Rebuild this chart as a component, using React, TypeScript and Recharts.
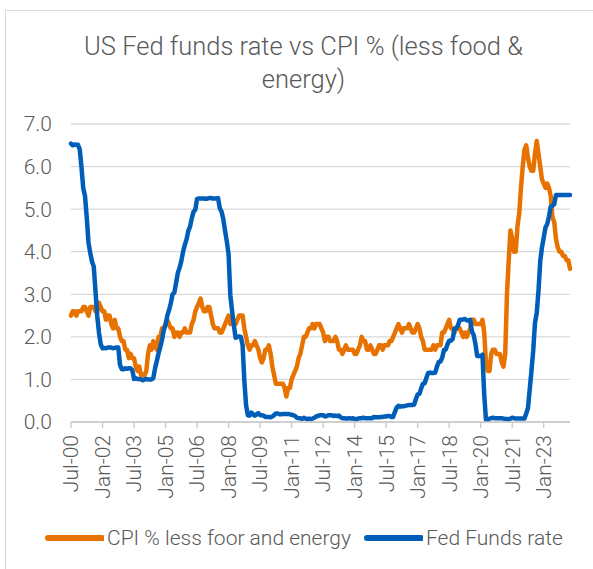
import React from 'react';
import { LineChart, Line, XAxis, YAxis, CartesianGrid } from 'recharts';

// monthly, Jul-2000 .. Apr-2024
const MONTHS = ['Jan', 'Feb', 'Mar', 'Apr', 'May', 'Jun', 'Jul', 'Aug', 'Sep', 'Oct', 'Nov', 'Dec'];
const START_YEAR = 2000;
const START_MONTH = 6;

const cpiCore = [
  2.5, 2.6, 2.6, 2.5, 2.6, 2.6,
  2.6, 2.7, 2.7, 2.6, 2.5, 2.7, 2.7, 2.7, 2.6, 2.6, 2.8, 2.7,
  2.6, 2.6, 2.4, 2.5, 2.5, 2.3, 2.2, 2.4, 2.2, 2.2, 2.0, 1.9,
  1.9, 1.7, 1.7, 1.5, 1.6, 1.5, 1.5, 1.3, 1.2, 1.3, 1.1, 1.1,
  1.1, 1.2, 1.6, 1.8, 1.7, 1.9, 1.8, 1.7, 2.0, 2.0, 2.2, 2.2,
  2.3, 2.4, 2.3, 2.2, 2.2, 2.0, 2.1, 2.1, 2.0, 2.1, 2.1, 2.2,
  2.1, 2.1, 2.1, 2.3, 2.4, 2.6, 2.7, 2.8, 2.9, 2.7, 2.6, 2.6,
  2.7, 2.7, 2.5, 2.3, 2.2, 2.2, 2.2, 2.1, 2.1, 2.2, 2.3, 2.4,
  2.5, 2.3, 2.4, 2.3, 2.3, 2.4, 2.5, 2.5, 2.5, 2.2, 2.0, 1.8,
  1.7, 1.8, 1.8, 1.9, 1.8, 1.7, 1.5, 1.4, 1.5, 1.7, 1.7, 1.8,
  1.6, 1.3, 1.1, 0.9, 0.9, 0.9, 0.9, 0.9, 0.8, 0.6, 0.8, 0.8,
  1.0, 1.1, 1.2, 1.3, 1.5, 1.6, 1.8, 2.0, 2.0, 2.1, 2.2, 2.2,
  2.3, 2.2, 2.3, 2.3, 2.3, 2.2, 2.1, 1.9, 2.0, 2.0, 1.9, 1.9,
  1.9, 2.0, 1.9, 1.7, 1.7, 1.6, 1.7, 1.8, 1.7, 1.7, 1.7, 1.7,
  1.6, 1.6, 1.7, 1.8, 2.0, 1.9, 1.9, 1.7, 1.7, 1.8, 1.7, 1.6,
  1.6, 1.7, 1.8, 1.8, 1.7, 1.8, 1.8, 1.8, 1.9, 1.9, 2.0, 2.1,
  2.2, 2.3, 2.2, 2.1, 2.2, 2.2, 2.2, 2.3, 2.2, 2.1, 2.1, 2.2,
  2.3, 2.2, 2.0, 1.9, 1.7, 1.7, 1.7, 1.7, 1.7, 1.8, 1.7, 1.8,
  1.8, 1.8, 2.1, 2.1, 2.2, 2.3, 2.4, 2.2, 2.2, 2.1, 2.2, 2.2,
  2.2, 2.1, 2.0, 2.1, 2.0, 2.1, 2.2, 2.4, 2.4, 2.3, 2.3, 2.3,
  2.3, 2.4, 2.1, 1.4, 1.2, 1.2, 1.6, 1.7, 1.7, 1.6, 1.6, 1.6,
  1.4, 1.3, 1.6, 3.0, 3.8, 4.5, 4.3, 4.0, 4.0, 4.6, 4.9, 5.5,
  6.0, 6.4, 6.5, 6.2, 6.0, 5.9, 5.9, 6.3, 6.6, 6.3, 6.0, 5.7,
  5.6, 5.5, 5.6, 5.5, 5.3, 4.8, 4.7, 4.3, 4.1, 4.0, 4.0, 3.9,
  3.9, 3.8, 3.8, 3.6,
];

const fedFunds = [
  6.54, 6.50, 6.52, 6.51, 6.51, 6.40,
  5.98, 5.49, 5.31, 4.80, 4.21, 3.97, 3.77, 3.65, 3.07, 2.49, 2.09, 1.82,
  1.73, 1.74, 1.73, 1.75, 1.75, 1.75, 1.73, 1.74, 1.75, 1.75, 1.34, 1.24,
  1.24, 1.26, 1.25, 1.26, 1.26, 1.22, 1.01, 1.03, 1.01, 1.01, 1.00, 0.98,
  1.00, 1.01, 1.00, 1.00, 1.00, 1.03, 1.26, 1.43, 1.61, 1.76, 1.93, 2.16,
  2.28, 2.50, 2.63, 2.79, 3.00, 3.04, 3.26, 3.50, 3.62, 3.78, 4.00, 4.16,
  4.29, 4.49, 4.59, 4.79, 4.94, 4.99, 5.24, 5.25, 5.25, 5.25, 5.25, 5.24,
  5.25, 5.26, 5.26, 5.25, 5.25, 5.25, 5.26, 5.02, 4.94, 4.76, 4.49, 4.24,
  3.94, 2.98, 2.61, 2.28, 1.98, 2.00, 2.01, 2.00, 1.81, 0.97, 0.39, 0.16,
  0.15, 0.22, 0.18, 0.15, 0.18, 0.21, 0.16, 0.16, 0.15, 0.12, 0.12, 0.12,
  0.11, 0.13, 0.16, 0.20, 0.20, 0.18, 0.18, 0.19, 0.19, 0.19, 0.19, 0.18,
  0.17, 0.16, 0.14, 0.10, 0.09, 0.09, 0.07, 0.10, 0.08, 0.07, 0.08, 0.07,
  0.08, 0.10, 0.13, 0.14, 0.16, 0.16, 0.16, 0.13, 0.14, 0.16, 0.16, 0.16,
  0.14, 0.15, 0.14, 0.15, 0.11, 0.09, 0.09, 0.08, 0.08, 0.09, 0.08, 0.09,
  0.07, 0.07, 0.08, 0.09, 0.09, 0.10, 0.09, 0.09, 0.09, 0.09, 0.09, 0.12,
  0.11, 0.11, 0.11, 0.12, 0.12, 0.13, 0.13, 0.14, 0.14, 0.12, 0.12, 0.24,
  0.34, 0.38, 0.36, 0.37, 0.37, 0.38, 0.39, 0.40, 0.40, 0.40, 0.41, 0.54,
  0.65, 0.66, 0.79, 0.90, 0.91, 1.04, 1.15, 1.16, 1.15, 1.15, 1.16, 1.30,
  1.41, 1.42, 1.51, 1.69, 1.70, 1.82, 1.91, 1.91, 1.95, 2.19, 2.20, 2.27,
  2.40, 2.40, 2.41, 2.42, 2.39, 2.38, 2.40, 2.13, 2.04, 1.83, 1.55, 1.55,
  1.55, 1.58, 0.65, 0.05, 0.05, 0.08, 0.09, 0.10, 0.09, 0.09, 0.09, 0.09,
  0.09, 0.08, 0.07, 0.07, 0.06, 0.08, 0.10, 0.09, 0.08, 0.08, 0.08, 0.08,
  0.08, 0.08, 0.20, 0.33, 0.77, 1.21, 1.68, 2.33, 2.56, 3.08, 3.78, 4.10,
  4.33, 4.57, 4.65, 4.83, 5.06, 5.08, 5.12, 5.33, 5.33, 5.33, 5.33, 5.33,
  5.33, 5.33, 5.33, 5.33,
];

const yTicks = [0, 1, 2, 3, 4, 5, 6, 7];

const data = cpiCore.map((cpi, i) => {
  const m = START_MONTH + i;
  const year = START_YEAR + Math.floor(m / 12);
  const label = `${MONTHS[m % 12]}-${String(year % 100).padStart(2, '0')}`;
  return { month: label, cpi, fed: fedFunds[i] };
});

const ORANGE = '#E87200';
const BLUE = '#005EB8';
const TEXT = '#595959';
const FONT = 'Roboto, sans-serif';

const RotatedTick = (props: any) => {
  const { x, y, payload } = props;
  return (
    <text
      x={x}
      y={y}
      dy="0.35em"
      transform={`rotate(-90, ${x}, ${y})`}
      textAnchor="end"
      fill={TEXT}
      fontSize={21}
      fontFamily={FONT}
      fontWeight={300}
    >
      {payload.value}
    </text>
  );
};

const LegendItem = ({ color, label, left }: { color: string; label: string; left: number }) => (
  <div style={{ position: 'absolute', left, top: 524, display: 'flex', alignItems: 'center', whiteSpace: 'nowrap' }}>
    <svg width={59} height={10} style={{ marginRight: 3 }}>
      <line x1={3} y1={5} x2={57} y2={5} stroke={color} strokeWidth={6} strokeLinecap="round" />
    </svg>
    <span>{label}</span>
  </div>
);

export default function App() {
  return (
    <div
      style={{
        position: 'absolute',
        left: 0,
        top: 0,
        width: 593,
        height: 569,
        overflow: 'hidden',
        background: '#fff',
        fontFamily: FONT,
        fontWeight: 300,
        color: TEXT,
      }}
    >
      <div
        style={{
          position: 'absolute',
          left: 5,
          top: 10,
          width: 620,
          height: 600,
          border: '1px solid #d9d9d9',
          boxSizing: 'border-box',
        }}
      />
      <LineChart
        width={593}
        height={569}
        data={data}
        margin={{ top: 124, right: 23, bottom: 47, left: 0 }}
        style={{ position: 'absolute', left: 0, top: 0 }}
      >
        <CartesianGrid vertical={false} stroke="#d9d9d9" strokeWidth={1.3} />
        <XAxis
          dataKey="month"
          interval={17}
          height={100}
          tick={<RotatedTick />}
          tickSize={6}
          tickMargin={7}
          axisLine={{ stroke: '#c8c8c8', strokeWidth: 1.3 }}
          tickLine={{ stroke: '#c8c8c8', strokeWidth: 1.3 }}
        />
        <YAxis
          width={71}
          domain={[0, 7]}
          ticks={yTicks}
          tickFormatter={(v: number) => v.toFixed(1)}
          axisLine={false}
          tickLine={false}
          tickMargin={13}
          tick={{ fill: TEXT, fontSize: 21, fontFamily: FONT, fontWeight: 300 }}
        />
        <Line
          dataKey="cpi"
          stroke={ORANGE}
          strokeWidth={4.5}
          dot={false}
          strokeLinejoin="round"
          strokeLinecap="round"
          isAnimationActive={false}
        />
        <Line
          dataKey="fed"
          stroke={BLUE}
          strokeWidth={4.5}
          dot={false}
          strokeLinejoin="round"
          strokeLinecap="round"
          isAnimationActive={false}
        />
      </LineChart>
      <div
        style={{
          position: 'absolute',
          left: 5,
          top: 30,
          width: 597,
          textAlign: 'center',
          fontSize: 25.5,
          lineHeight: '32.5px',
        }}
      >
        US Fed funds rate vs CPI % (less food &amp;
        <br />
        energy)
      </div>
      <div style={{ fontSize: 21, lineHeight: '28px' }}>
        <LegendItem color={ORANGE} label="CPI % less foor and energy" left={45} />
        <LegendItem color={BLUE} label="Fed Funds rate" left={364} />
      </div>
    </div>
  );
}
